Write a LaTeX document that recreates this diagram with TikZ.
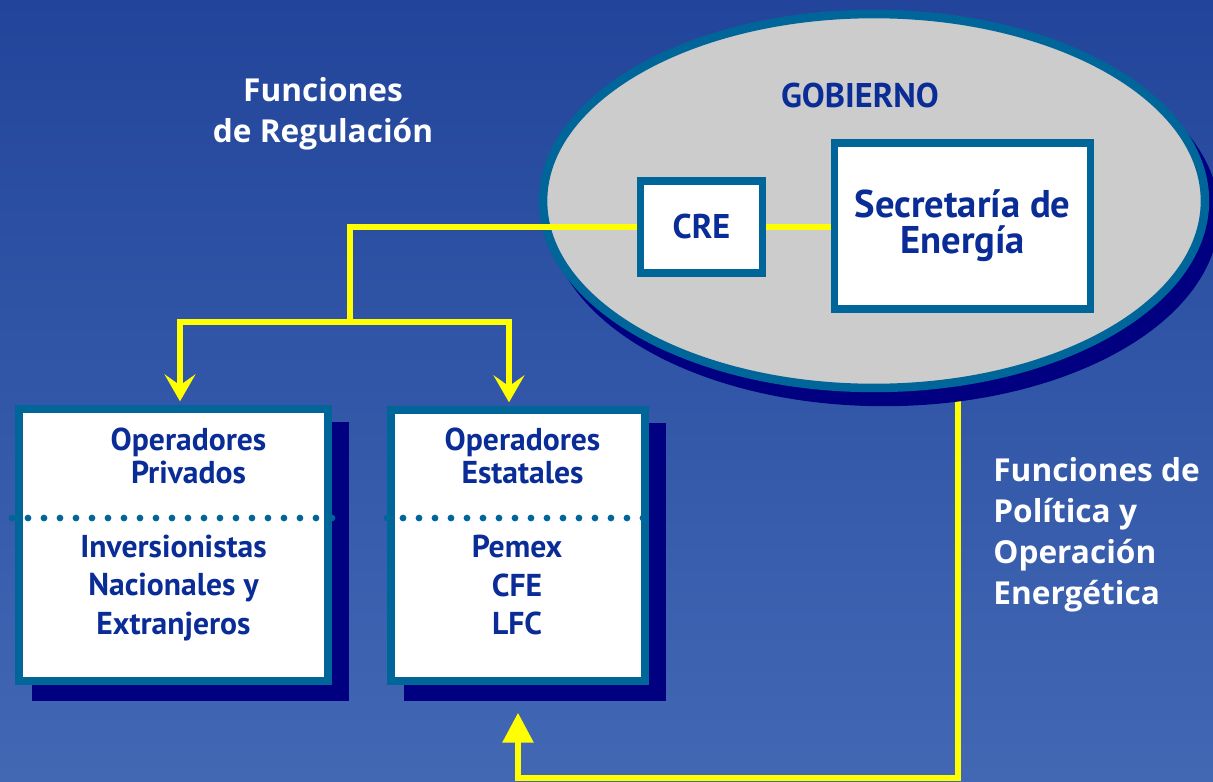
\documentclass[tikz,border=0pt]{standalone}
\usepackage{fontspec}
\setmainfont{PT Sans}
\newfontfamily\labelfont{Open Sans}
\usetikzlibrary{arrows.meta,shapes.geometric,shadows,backgrounds}

\definecolor{bgtop}{RGB}{34,69,155}
\definecolor{bgbottom}{RGB}{66,104,180}
\definecolor{frameteal}{RGB}{0,102,153}
\definecolor{shadownavy}{RGB}{0,0,128}
\definecolor{govgrey}{RGB}{204,204,204}
\definecolor{textblue}{RGB}{10,44,150}
\definecolor{linkyellow}{RGB}{255,255,0}

\begin{document}
\begin{tikzpicture}[x=0.02cm,y=-0.02cm,
	framebox/.style={draw=frameteal, line width=0.15cm, fill=white, inner sep=0pt},
	opbox/.style={framebox, drop shadow={shadow xshift=0.34cm, shadow yshift=-0.33cm,
		opacity=1, fill=shadownavy, draw=shadownavy, line width=0.15cm}},
	boxtext/.style={text=textblue, inner sep=0pt, align=center, font=\bfseries\fontsize{18}{18.4}\selectfont},
	bodytext/.style={boxtext, font=\bfseries\fontsize{18}{21.8}\selectfont},
	whitetext/.style={text=white, inner sep=0pt, font=\labelfont\bfseries\fontsize{18}{23.4}\selectfont},
	dotrow/.style={frameteal, line width=0.135cm, line cap=round, dash pattern=on 0pt off 0.32cm},
	reglink/.style={linkyellow, line width=0.12cm}
]
	\useasboundingbox (0,0) rectangle (1213,781);

	%government (grey ellipse)
	\node[ellipse, draw=frameteal, line width=0.17cm, fill=govgrey, inner sep=0pt,
		minimum width=13.24cm, minimum height=7.48cm,
		drop shadow={shadow xshift=0.2cm, shadow yshift=-0.28cm, opacity=1,
			fill=shadownavy, draw=shadownavy, line width=0.17cm}] (gob) at (874,201) {};
	\node[text=textblue, anchor=base, font=\bfseries\fontsize{19.5}{22}\selectfont] (gobtitle) at (860,107) {GOBIERNO};
	\node[framebox, minimum width=2.44cm, minimum height=1.84cm, text=textblue,
		font=\bfseries\fontsize{19.5}{22}\selectfont] (cre) at (701.5,227) {CRE};
	\node[framebox, minimum width=5.12cm, minimum height=3.32cm, text=textblue, align=center,
		font=\bfseries\fontsize{22}{20.5}\selectfont] (sener) at (962.5,226) {Secretaría de\\Energía};

	%operator boxes
	\node[opbox, minimum width=6.18cm, minimum height=5.44cm] (priv) at (173.5,545) {};
	\node[opbox, minimum width=5.08cm, minimum height=5.42cm] (est) at (518,545.5) {};
	\draw[dotrow] (12,518) -- (332,518);
	\draw[dotrow] (387,518) -- (650,518);
	\node[boxtext] (privhead) at (188.5,456) {Operadores\\Privados};
	\node[bodytext] (privbody) at (173.5,588) {Inversionistas\\Nacionales y\\Extranjeros};
	\node[boxtext] (esthead) at (522.5,456) {Operadores\\Estatales};
	\node[bodytext] (estbody) at (517,585) {Pemex\\CFE\\LFC};

	%background and the link from the government down to the state operators
	\coordinate (polcorner) at (958,778);
	\begin{pgfonlayer}{background}
		\fill[top color=bgtop, bottom color=bgbottom] (0,0) rectangle (1213,781);
		\draw[reglink, -{Triangle[length=0.6cm, width=0.6cm]}, shorten >=0.56cm]
			(gob.south -| polcorner) -- (polcorner) -| (est.south);
	\end{pgfonlayer}

	%regulation links
	\coordinate (regsplit) at (350,322);
	\draw[reglink] (cre.east) -- (cre.east -| sener.west);
	\draw[reglink] (cre.west) -| (regsplit);
	\draw[reglink, -{Stealth[length=0.54cm, width=0.62cm, inset=0.22cm]}, shorten >=0.08cm]
		(regsplit) -| ([xshift=0.13cm]priv.north);
	\draw[reglink, -{Stealth[length=0.54cm, width=0.62cm, inset=0.22cm]}, shorten >=0.08cm]
		(regsplit) -| ([xshift=-0.18cm]est.north);

	%side labels
	\node[whitetext, align=center] (regtitle) at (323,114) {Funciones\\de Regulación};
	\node[whitetext, align=left, anchor=west] (poltitle) at (993,535) {Funciones de\\Política y\\Operación\\Energética};
\end{tikzpicture}
\end{document}
